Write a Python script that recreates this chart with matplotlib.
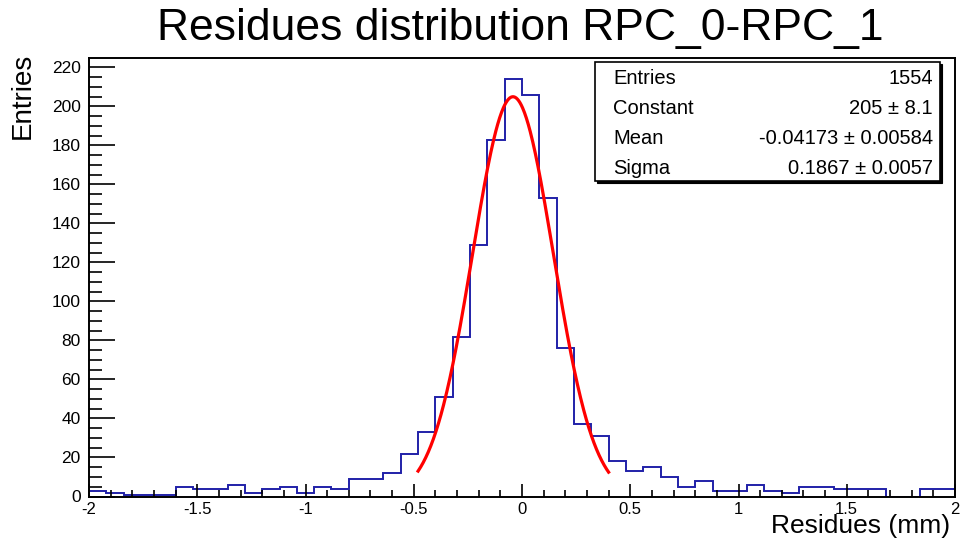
import numpy as np
import matplotlib
matplotlib.use("Agg")
import matplotlib.pyplot as plt
from matplotlib.ticker import MultipleLocator, FuncFormatter
from matplotlib.patches import Rectangle

plt.rcParams['font.family'] = ['Liberation Sans', 'DejaVu Sans']
plt.rcParams['axes.unicode_minus'] = False

# ---- data ----
bin_edges = np.linspace(-2.0, 2.0, 51)  # 50 bins of width 0.08
counts = [3, 2, 1, 1, 1, 5, 4, 4, 6, 2,
          4, 5, 2, 5, 4, 9, 9, 12, 22, 33,
          51, 82, 129, 183, 214, 206, 153, 76, 37, 31,
          18, 13, 15, 10, 5, 8, 3, 3, 6, 3,
          2, 5, 5, 4, 4, 4, 0, 0, 4, 4]

fit_constant = 205.0
fit_mean = -0.04173
fit_sigma = 0.1867
fit_range = (-0.48, 0.40)

stats_labels = ["Entries", "Constant", "Mean", "Sigma"]
stats_values = ["1554", "205 ± 8.1", "-0.04173 ± 0.00584", "0.1867 ± 0.0057"]

title = "Residues distribution RPC_0-RPC_1"
xlabel = "Residues (mm)"
ylabel = "Entries"

# ---- figure ----
W, H = 961, 543
fig = plt.figure(figsize=(W / 100, H / 100), dpi=100)
fig.patch.set_facecolor('white')

def fx(px):
    return px / W

def fy(py):
    return (H - py) / H

ax = fig.add_axes([fx(89), fy(496.5), fx(955) - fx(89), fy(58.3) - fy(496.5)])

ax.stairs(counts, bin_edges, color='#2020a8', linewidth=1.4, baseline=0)

xf = np.linspace(fit_range[0], fit_range[1], 300)
yf = fit_constant * np.exp(-0.5 * ((xf - fit_mean) / fit_sigma) ** 2)
ax.plot(xf, yf, color='#ff0000', linewidth=2.3)

ax.set_xlim(-2, 2)
ax.set_ylim(0, max(counts) * 1.05)

ax.xaxis.set_major_locator(MultipleLocator(0.5))
ax.xaxis.set_minor_locator(MultipleLocator(0.1))
ax.yaxis.set_major_locator(MultipleLocator(20))
ax.yaxis.set_minor_locator(MultipleLocator(5))
ax.xaxis.set_major_formatter(FuncFormatter(lambda v, p: "%g" % round(v, 3)))
ax.yaxis.set_major_formatter(FuncFormatter(lambda v, p: "%g" % round(v, 3)))

ax.tick_params(axis='both', which='both', direction='in', top=False, right=False,
               colors='black', width=1.2)
ax.tick_params(axis='x', which='major', length=9.5, pad=4, labelsize=12)
ax.tick_params(axis='x', which='minor', length=5)
ax.tick_params(axis='y', which='major', length=19, pad=6, labelsize=12.5)
ax.tick_params(axis='y', which='minor', length=9.5)

for s in ax.spines.values():
    s.set_linewidth(1.4)
    s.set_color('black')

# title and axis labels
fig.text(fx(520), fy(40), title, ha='center', va='baseline', fontsize=32)
fig.text(fx(950), fy(533.5), xlabel, ha='right', va='baseline', fontsize=19)
fig.text(fx(23), fy(53), ylabel, ha='center', va='top', rotation=90, fontsize=20)

# stats box with shadow
bx0, by0, bx1, by1 = 595, 62, 940, 181
shadow = Rectangle((fx(bx0 + 2), fy(by1 + 2)), fx(bx1) - fx(bx0), fy(by0) - fy(by1),
                   transform=fig.transFigure, facecolor='black', edgecolor='black',
                   linewidth=0.8, zorder=5)
box = Rectangle((fx(bx0), fy(by1)), fx(bx1) - fx(bx0), fy(by0) - fy(by1),
                transform=fig.transFigure, facecolor='white', edgecolor='black',
                linewidth=1.2, zorder=6)
fig.add_artist(shadow)
fig.add_artist(box)

row_y = [78, 108, 139, 169]
for lab, val, yy in zip(stats_labels, stats_values, row_y):
    fig.text(fx(613), fy(yy), lab, ha='left', va='center', fontsize=14.5, zorder=7)
    fig.text(fx(933), fy(yy), val, ha='right', va='center', fontsize=14.5, zorder=7)

fig.savefig("out.png", dpi=100, facecolor='white')
